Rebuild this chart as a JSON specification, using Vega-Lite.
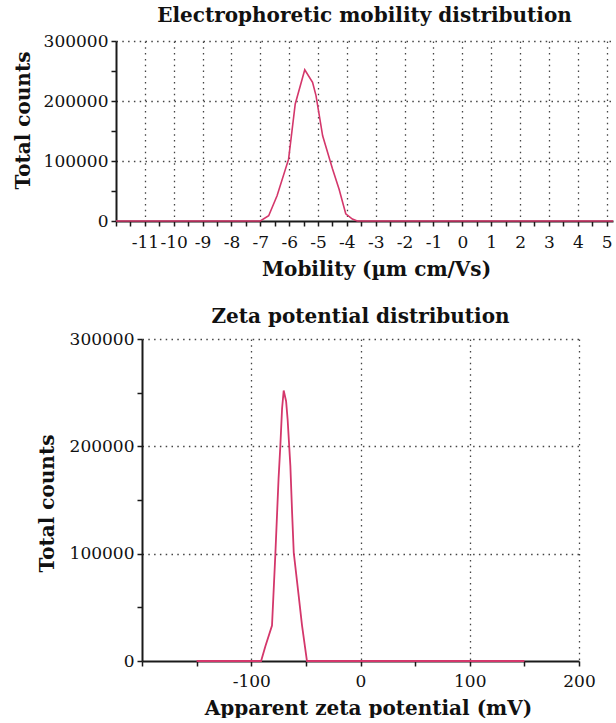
{
  "$schema": "https://vega.github.io/schema/vega-lite/v6.json",
  "padding": {"left": 0, "top": 6, "right": 0, "bottom": 0},
  "autosize": {"type": "pad"},
  "background": "white",
  "config": {
    "font": "DejaVu Serif",
    "view": {"stroke": null},
    "axis": {
      "domainColor": "#1a1a1a",
      "domainWidth": 2,
      "tickColor": "#1a1a1a",
      "tickWidth": 1.5,
      "tickSize": 5,
      "labelFont": "DejaVu Serif",
      "labelFontSize": 17,
      "labelColor": "#111111",
      "labelPadding": 3,
      "titleFont": "DejaVu Serif",
      "titleFontSize": 20,
      "titleFontWeight": "bold",
      "titleColor": "#111111",
      "gridColor": "#444444",
      "gridDash": [1.5, 4.3],
      "gridWidth": 1.3,
      "labelOverlap": false,
      "labelFlush": false,
      "zindex": 0
    },
    "title": {"font": "DejaVu Serif", "fontSize": 20, "fontWeight": "bold", "color": "#111111", "anchor": "middle"}
  },
  "datasets": {
    "mobility": [
      {"mobility": -12, "counts": 0},
      {"mobility": -7, "counts": 0},
      {"mobility": -6.71, "counts": 8800},
      {"mobility": -6.42, "counts": 42000},
      {"mobility": -6.02, "counts": 103000},
      {"mobility": -5.79, "counts": 195000},
      {"mobility": -5.46, "counts": 252000},
      {"mobility": -5.19, "counts": 231000},
      {"mobility": -5.07, "counts": 209000},
      {"mobility": -4.84, "counts": 142000},
      {"mobility": -4.5, "counts": 87000},
      {"mobility": -4.27, "counts": 53000},
      {"mobility": -4.04, "counts": 12000},
      {"mobility": -3.81, "counts": 3300},
      {"mobility": -3.64, "counts": 0},
      {"mobility": 5.22, "counts": 0}
    ],
    "zeta": [
      {"zeta": -150, "counts": 0},
      {"zeta": -91, "counts": 0},
      {"zeta": -87, "counts": 14000},
      {"zeta": -81, "counts": 33000},
      {"zeta": -78, "counts": 98000},
      {"zeta": -75, "counts": 170000},
      {"zeta": -73.4, "counts": 200000},
      {"zeta": -71.8, "counts": 235000},
      {"zeta": -70.3, "counts": 252000},
      {"zeta": -68.1, "counts": 242000},
      {"zeta": -66.7, "counts": 225000},
      {"zeta": -64.2, "counts": 182000},
      {"zeta": -62.6, "counts": 138000},
      {"zeta": -61.1, "counts": 101000},
      {"zeta": -56.6, "counts": 61000},
      {"zeta": -53.5, "counts": 33000},
      {"zeta": -49, "counts": 0},
      {"zeta": 150, "counts": 0}
    ],
    "spacer": [{"s": 0}]
  },
  "spacing": 28,
  "vconcat": [
    {
      "spacing": 0,
      "hconcat": [
        {
          "width": 13, "height": 1,
          "data": {"name": "spacer"},
          "mark": {"type": "point", "opacity": 0},
          "encoding": {},
          "view": {"fill": "white", "stroke": null}
        },
        {
          "width": 497,
          "height": 180,
          "title": {"text": "Electrophoretic mobility distribution", "offset": 6},
          "data": {"name": "mobility"},
          "mark": {"type": "line", "color": "#d4376b", "strokeWidth": 1.6},
          "encoding": {
            "x": {
              "field": "mobility", "type": "quantitative",
              "scale": {"domain": [-12, 5.22], "nice": false, "zero": false},
              "axis": {
                "title": "Mobility (µm cm/Vs)",
                "values": [-12,-11.5,-11,-10.5,-10,-9.5,-9,-8.5,-8,-7.5,-7,-6.5,-6,-5.5,-5,-4.5,-4,-3.5,-3,-2.5,-2,-1.5,-1,-0.5,0,0.5,1,1.5,2,2.5,3,3.5,4,4.5,5],
                "labelExpr": "(datum.value % 1 === 0 && datum.value > -12) ? ('' + datum.value) : ''",
                "grid": true,
                "gridOpacity": {"condition": {"test": "datum.value % 1 === 0 && datum.value > -12", "value": 1}, "value": 0},
                "labelPadding": 8,
                "titlePadding": 9,
                "titleX": 260
              }
            },
            "y": {
              "field": "counts", "type": "quantitative",
              "scale": {"domain": [0, 300000], "nice": false},
              "axis": {
                "title": "Total counts",
                "values": [0, 50000, 100000, 150000, 200000, 250000, 300000],
                "labelExpr": "datum.value % 100000 === 0 ? ('' + datum.value) : ''",
                "grid": true,
                "gridOpacity": {"condition": {"test": "datum.value % 100000 === 0 && datum.value > 0", "value": 1}, "value": 0},
                "titlePadding": 10,
                "titleY": 79
              }
            }
          }
        }
      ]
    },
    {
      "spacing": 0,
      "hconcat": [
        {
          "width": 37, "height": 1,
          "data": {"name": "spacer"},
          "mark": {"type": "point", "opacity": 0},
          "encoding": {},
          "view": {"fill": "white", "stroke": null}
        },
        {
          "width": 437,
          "height": 322,
          "title": {"text": "Zeta potential distribution", "offset": 3},
          "data": {"name": "zeta"},
          "mark": {"type": "line", "color": "#d4376b", "strokeWidth": 1.8},
          "encoding": {
            "x": {
              "field": "zeta", "type": "quantitative",
              "scale": {"domain": [-200, 200], "nice": false, "zero": false},
              "axis": {
                "title": "Apparent zeta potential (mV)",
                "values": [-200, -150, -100, -50, 0, 50, 100, 150, 200],
                "labelExpr": "(datum.value % 100 === 0 && datum.value > -200) ? ('' + datum.value) : ''",
                "grid": true,
                "gridOpacity": {"condition": {"test": "datum.value % 100 === 0 && datum.value > -200", "value": 1}, "value": 0},
                "labelPadding": 7,
                "titlePadding": 9,
                "titleX": 226
              }
            },
            "y": {
              "field": "counts", "type": "quantitative",
              "scale": {"domain": [0, 300000], "nice": false},
              "axis": {
                "title": "Total counts",
                "values": [0, 50000, 100000, 150000, 200000, 250000, 300000],
                "labelExpr": "datum.value % 100000 === 0 ? ('' + datum.value) : ''",
                "grid": true,
                "gridOpacity": {"condition": {"test": "datum.value % 100000 === 0 && datum.value > 0", "value": 1}, "value": 0},
                "titlePadding": 12,
                "titleY": 164
              }
            }
          }
        }
      ]
    }
  ]
}
